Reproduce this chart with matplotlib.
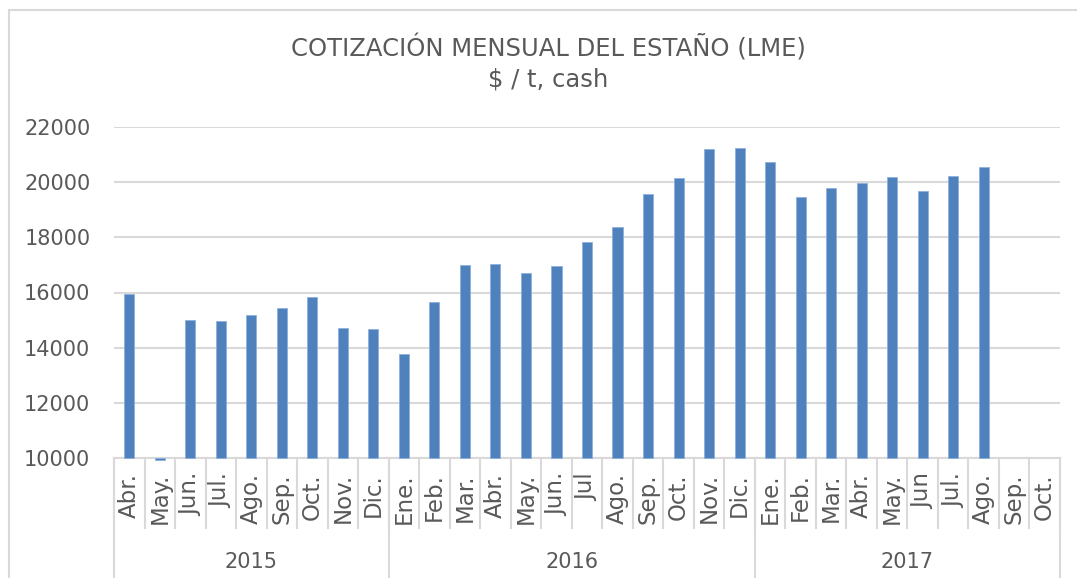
import numpy as np
import matplotlib.pyplot as plt
from matplotlib.patches import Rectangle
import matplotlib.transforms as mtransforms

meses = ['Abr.', 'May.', 'Jun.', 'Jul.', 'Ago.', 'Sep.', 'Oct.', 'Nov.', 'Dic.',
         'Ene.', 'Feb.', 'Mar.', 'Abr.', 'May.', 'Jun.', 'Jul', 'Ago.', 'Sep.',
         'Oct.', 'Nov.', 'Dic.',
         'Ene.', 'Feb.', 'Mar.', 'Abr.', 'May.', 'Jun', 'Jul.', 'Ago.', 'Sep.', 'Oct.']
anios = ['2015', '2016', '2017']
meses_por_anio = [9, 12, 10]
cotizacion = [15960, 9930, 14990, 14950, 15200, 15455, 15830, 14715, 14680,
              13760, 15640, 16980, 17020, 16690, 16970, 17820, 18390, 19565,
              20155, 21210, 21245,
              20740, 19465, 19795, 19965, 20205, 19685, 20240, 20555, np.nan, np.nan]

base = 10000
gris = '#595959'
linea = '#d9d9d9'

plt.rcParams['font.family'] = ['DejaVu Sans']

fig = plt.figure(figsize=(10.77, 5.78), dpi=100)
W, H = 1077, 578
ax = fig.add_axes([114 / W, 1 - 458 / H, (1060 - 114) / W, (458 - 127) / H])

x = np.arange(len(meses))
alturas = np.array(cotizacion) - base
ax.bar(x, alturas, bottom=base, width=0.33, color='#4f81bd', edgecolor='#8eb0dc',
       linewidth=0.6, zorder=3, clip_on=False)

ax.set_xlim(-0.5, len(meses) - 0.5)
ax.set_ylim(10000, 22000)
ax.set_yticks(np.arange(10000, 22001, 2000))
ax.grid(axis='y', color=linea, linewidth=1.5, zorder=0)
for s in ['top', 'right', 'left']:
    ax.spines[s].set_visible(False)
ax.spines['bottom'].set_color(linea)
ax.spines['bottom'].set_linewidth(1.5)
ax.tick_params(axis='y', length=0, pad=17, labelsize=15, labelcolor=gris)
ax.set_xticks([])

trans = mtransforms.blended_transform_factory(ax.transData, ax.transAxes)
alto_ax = 458 - 127

# etiquetas de mes y separadores
for i, m in enumerate(meses):
    ax.text(i, -15 / alto_ax, m, transform=trans, rotation=90, ha='center',
            va='top', fontsize=16.5, color=gris)
for b in np.arange(-0.5, len(meses), 1.0):
    ax.plot([b, b], [0, -70 / alto_ax], transform=trans, color=linea,
            linewidth=1.5, clip_on=False)

# etiquetas de año
inicio = -0.5
for a, n in zip(anios, meses_por_anio):
    ax.plot([inicio, inicio], [0, -125 / alto_ax], transform=trans, color=linea,
            linewidth=1.5, clip_on=False)
    ax.text(inicio + n / 2, -104 / alto_ax, a, transform=trans, ha='center',
            va='center', fontsize=15, color=gris)
    inicio += n
ax.plot([inicio, inicio], [0, -125 / alto_ax], transform=trans, color=linea,
        linewidth=1.5, clip_on=False)

fig.text(548 / W, 1 - 48 / H, 'COTIZACIÓN MENSUAL DEL ESTAÑO (LME)', ha='center',
         va='center', fontsize=17.5, color=gris)
fig.text(548 / W, 1 - 80 / H, '$ / t, cash', ha='center', va='center',
         fontsize=17.5, color=gris)

fig.patches.append(Rectangle((8.5 / W, -0.1), 1.2, 1 - 9.5 / H + 0.1,
                             transform=fig.transFigure, fill=False,
                             edgecolor=linea, linewidth=1.5))

fig.savefig('out.png', dpi=100)
